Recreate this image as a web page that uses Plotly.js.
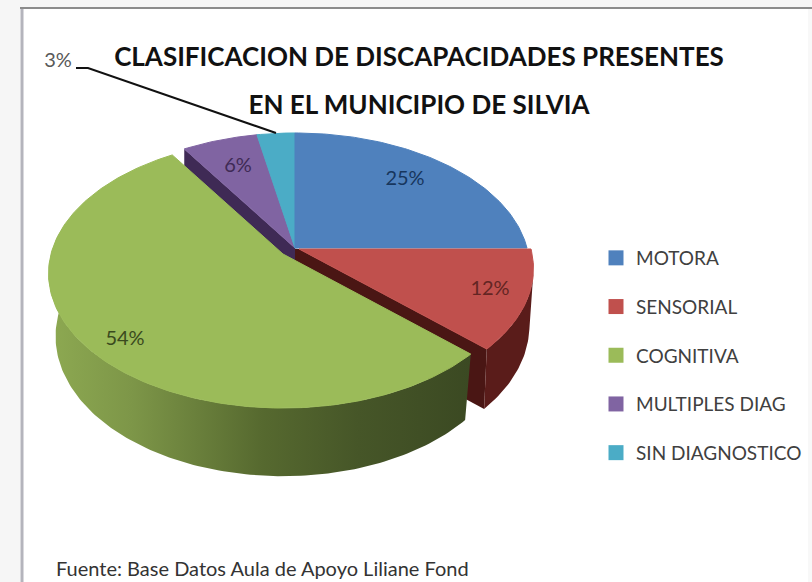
<!DOCTYPE html>
<html><head><meta charset="utf-8">
<script src="https://cdn.plot.ly/plotly-3.0.1.min.js"></script>
<style>html,body{margin:0;padding:0;background:#fff;overflow:hidden}#c{width:812px;height:582px}</style>
</head><body><div id="c"></div>
<script>
const categories = ["MOTORA","SENSORIAL","COGNITIVA","MULTIPLES DIAG","SIN DIAGNOSTICO"];
const values = [25,12,54,6,3];
const topColors = ["#4f81bd","#c0504d","#9bbb59","#8064a2","#4bacc6"];
const labelColors = ["#17365d","#632523","#3a4a1e","#3f2a55","#595959"];
const labelPos = [[405,180],[490,290],[125,340],[238,167],[58,62]];
const shifts = [[0,0],[4,1],[-12,6],[0,0],[0,0]];

const FONT = 'Lato,"Open Sans",sans-serif';
const cx=295, cy=248, Rx=232, Ry=131.7, P=0.145;
const deg = Math.PI/180;
function proj(theta, s, bottom){
  const u=Math.sin(theta*deg), v=Math.cos(theta*deg), w=1+P*v;
  const sx=bottom?0.97:1, sy=bottom?1.04:1, off=bottom?62:0;
  return [cx+s[0]+Rx*sx*u/w, cy+s[1]+off-Ry*sy*v/w];
}
function arc(a,b,s,bottom){
  const out=[], n=Math.max(2,Math.ceil(Math.abs(b-a)));
  for(let i=0;i<=n;i++) out.push(proj(a+(b-a)*i/n,s,bottom));
  return out;
}
function poly(pts,color,grad,edge){
  const t={type:'scatter',mode:'lines',x:pts.map(p=>p[0]),y:pts.map(p=>p[1]),
    fill:'toself',fillcolor:color,line:edge?{width:1,color:color}:{width:0},hoverinfo:'skip',showlegend:false};
  if(grad) t.fillgradient=grad;
  return t;
}
const angles=[]; let acc=0;
values.forEach(v=>{angles.push([acc*3.6,(acc+v)*3.6]); acc+=v;});
const apex=i=>[cx+shifts[i][0],cy+shifts[i][1]];

const traces=[];
// inner cut walls
{
  const a=angles[1], s=shifts[1], sb=[s[0]+3,s[1]-6], e=proj(a[1],s,false), eb=proj(a[1],sb,true);
  traces.push(poly([[cx-6,cy],apex(1),e,eb,[cx-6,cy+56]],"#4a1614"));
  const sideR=arc(100,a[1],s,false).concat(arc(a[1],100,sb,true));
  traces.push(poly(sideR,"#5a1c1a"));
  const b=angles[3], s3=shifts[3], e3=proj(b[0],s3,false);
  traces.push(poly([[cx,cy],e3,[e3[0],e3[1]+62],[cx,cy+62]],"#3f2a55"));
}
// green wall
{
  const a=angles[2], s=shifts[2];
  const side=arc(a[0],282,s,false).concat(arc(282,a[0],s,true));
  traces.push(poly(side,"#6a7f3c",{type:'horizontal',start:45,stop:480,
    colorscale:[[0,'#8eaa52'],[0.2,'#7d9648'],[0.5,'#56692f'],[0.72,'#465628'],[1,'#3a4822']]}));
}
// top faces
[2,3,4,0,1].forEach(i=>{
  const a=angles[i], s=shifts[i];
  traces.push(poly([apex(i)].concat(arc(a[0],a[1],s,false)).concat([apex(i)]),topColors[i],null,true));
});
// leader line of the 3% slice
traces.push({type:'scatter',mode:'lines',x:[76,88,276],y:[68,68,133],
  line:{color:'#111111',width:2},hoverinfo:'skip',showlegend:false});
// data labels
traces.push({type:'scatter',mode:'text',x:labelPos.map(p=>p[0]),y:labelPos.map(p=>p[1]),
  text:values.map(v=>v+'%'),textposition:'middle center',
  textfont:{family:FONT,size:20,color:labelColors},hoverinfo:'skip',showlegend:false});
// legend entries
categories.forEach((c,i)=>traces.push({type:'scatter',mode:'markers',x:[null],y:[null],name:c,legendgroup:c,
  marker:{symbol:'square',size:15,color:topColors[i]}}));

const layout={
  width:812,height:582,margin:{l:0,r:0,t:0,b:0,autoexpand:false},showlegend:true,
  paper_bgcolor:'#ffffff',plot_bgcolor:'#ffffff',
  xaxis:{range:[0,812],visible:false,fixedrange:true},
  yaxis:{range:[582,0],visible:false,fixedrange:true},
  title:{text:'<span style="font-size:26px">CLASIFICACION DE DISCAPACIDADES PRESENTES</span><br><span style="font-size:26px">EN EL MUNICIPIO DE SILVIA</span>',
    font:{family:FONT,size:37,color:'#111111',weight:'bold'},x:419/812,xanchor:'center',y:1-66/582,yanchor:'middle'},
  legend:{x:596/812,y:1-239/582,xanchor:'left',yanchor:'top',traceorder:'grouped',tracegroupgap:21,
    font:{family:FONT,size:19,color:'#404040'},itemwidth:30,bgcolor:'rgba(0,0,0,0)'},
  shapes:[
    {type:'rect',xref:'x',yref:'y',x0:0,x1:20,y0:0,y1:582,fillcolor:'#f6f6f6',line:{width:0},layer:'below'},
    {type:'rect',xref:'x',yref:'y',x0:0,x1:812,y0:0,y1:8,fillcolor:'#f6f6f6',line:{width:0},layer:'below'},
    {type:'rect',xref:'x',yref:'y',x0:808,x1:812,y0:8,y1:582,fillcolor:'#f8f8f8',line:{width:0},layer:'below'},
    {type:'line',xref:'x',yref:'y',x0:22,x1:22,y0:8,y1:582,line:{color:'#b4b4bc',width:3},layer:'below'},
    {type:'line',xref:'x',yref:'y',x0:20,x1:812,y0:8,y1:8,line:{color:'#8c8c8c',width:2},layer:'below'}
  ],
  annotations:[{xref:'x',yref:'y',x:54,y:568,xanchor:'left',yanchor:'middle',showarrow:false,
    text:'Fuente: Base Datos Aula de Apoyo Liliane Fond',font:{family:FONT,size:20,color:'#333333'}}]
};
Plotly.newPlot('c',traces,layout,{displayModeBar:false,staticPlot:true});
</script></body></html>
